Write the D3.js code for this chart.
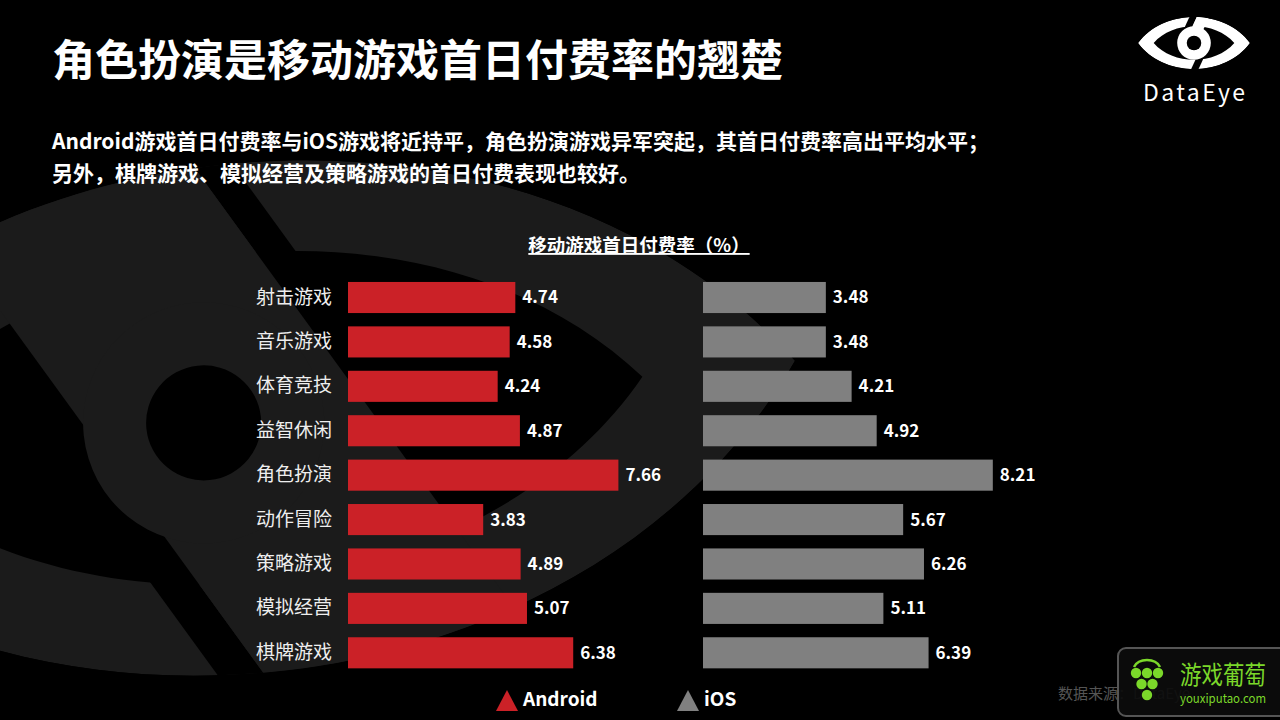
<!DOCTYPE html>
<html>
<head>
<meta charset="utf-8">
<script src="https://cdn.jsdelivr.net/npm/d3@7"></script>
<style>
html,body{margin:0;padding:0;background:#000;}
svg{display:block;}
text{font-family:"Noto Sans CJK SC","Microsoft YaHei",sans-serif;}
</style>
</head>
<body>
<svg id="chart" width="1280" height="720"></svg>
<script>
const categories = ["射击游戏","音乐游戏","体育竞技","益智休闲","角色扮演","动作冒险","策略游戏","模拟经营","棋牌游戏"];
const androidValues = [4.74,4.58,4.24,4.87,7.66,3.83,4.89,5.07,6.38];
const iosValues = [3.48,3.48,4.21,4.92,8.21,5.67,6.26,5.11,6.39];
const seriesNames = ["Android","iOS"];
const seriesColors = ["#CB2127","#808080"];
const titleText = "角色扮演是移动游戏首日付费率的翘楚";
const subtitleLines = ["Android游戏首日付费率与iOS游戏将近持平，角色扮演游戏异军突起，其首日付费率高出平均水平；","另外，棋牌游戏、模拟经营及策略游戏的首日付费表现也较好。"];
const chartTitle = "移动游戏首日付费率（%）";
const sourceText = "数据来源：DataEye";

const svg = d3.select("#chart");
svg.append("rect").attr("width",1280).attr("height",720).attr("fill","#000");

// ---- logo drawing helper (unit coords, half-width 1) ----
let clipN = 0;
function drawLogo(g, fg, bg, o) {
  const cid = "logoclip" + (clipN++);
  const outer = "M-1,0 C-0.55,-0.62 0.55,-0.62 1,0 C0.55,0.62 -0.55,0.62 -1,0 Z";
  g.append("clipPath").attr("id", cid).append("path").attr("d", outer);
  const inner = g.append("g").attr("clip-path","url(#"+cid+")");
  inner.append("path").attr("fill-rule","evenodd").attr("fill",fg)
    .attr("d", outer + " M-0.72,0 C-0.38,-0.4 0.38,-0.4 0.72,0 C0.38,0.4 -0.38,0.4 -0.72,0 Z");
  const s = o.s, n = [-o.s[1], o.s[0]];
  const c = o.c;
  function band(r){
    const p = (off,t)=>[c[0]+n[0]*off+s[0]*t, c[1]+n[1]*off+s[1]*t];
    return "M"+[p(r[0],r[2]),p(r[1],r[2]),p(r[1],r[3]),p(r[0],r[3])].map(q=>q.join(",")).join("L")+"Z";
  }
  inner.append("path").attr("fill",bg).attr("d",band(o.gapTop));
  inner.append("path").attr("fill",bg).attr("d",band(o.gapBot));
  inner.append("path").attr("fill",fg).attr("d",band(o.stem));
  inner.append("circle").attr("cx",c[0]).attr("cy",c[1]).attr("r",o.R).attr("fill",fg);
  inner.append("circle").attr("cx",c[0]).attr("cy",c[1]).attr("r",o.r).attr("fill",bg);
}

// background big eye (mirrored, tilted)
const bgLogo = svg.append("g").attr("transform","translate(250,418) rotate(-6) scale(-548,548)");
drawLogo(bgLogo, "#1b1b1b", "#000", {
  c:[0.085,0], s:[0.5,-0.866], R:0.22, r:0.105,
  stem:[-0.26,0.18,-0.9,0.9], gapTop:[-0.32,-0.26,0,0.9], gapBot:[0.18,0.25,-0.9,0]
});

// top-right logo
const logo = svg.append("g").attr("transform","translate(1194,43) scale(56)");
drawLogo(logo, "#fff", "#000", {
  c:[0,0], s:[0.42,-0.906], R:0.3, r:0.13,
  stem:[-0.15,0.05,0,0.9], gapTop:[-0.27,-0.15,0,0.9], gapBot:[0.15,0.27,-0.9,0]
});
svg.append("text").attr("x",1194).attr("y",101).attr("text-anchor","middle")
  .attr("font-family","Lato, 'Open Sans', sans-serif").attr("font-size",23)
  .attr("fill","#fff").attr("textLength",102).text("DataEye");

// title
svg.append("text").attr("x",52).attr("y",76).attr("font-size",43).attr("font-weight","bold")
  .attr("fill","#fff").text(titleText);
subtitleLines.forEach((t,i)=>{
  svg.append("text").attr("x",52).attr("y",149+i*32).attr("font-size",21).attr("font-weight","bold")
    .attr("fill","#fff").text(t);
});

// chart title underlined
svg.append("text").attr("x",639).attr("y",252).attr("text-anchor","middle")
  .attr("font-size",18.5).attr("font-weight","bold").attr("fill","#fff")
  .attr("text-decoration","underline").text(chartTitle);

// scales
const y = d3.scaleBand().domain(categories).range([275.3,675]).paddingInner(0.3).paddingOuter(0.15);
const xA = d3.scaleLinear().domain([0,10]).range([348,701]);
const xI = d3.scaleLinear().domain([0,10]).range([703,1056]);

// category labels via axis
const axis = svg.append("g").attr("transform","translate(340,0)").call(d3.axisLeft(y).tickSize(0).tickPadding(8));
axis.select(".domain").remove();
axis.selectAll("text").attr("font-size",19).attr("fill","#eeeeee")
  .attr("font-family","'Noto Sans CJK SC',sans-serif");

function drawSeries(vals, x, color){
  const g = svg.append("g");
  g.selectAll("rect").data(categories).join("rect")
    .attr("x", x(0)).attr("y", d=>y(d))
    .attr("width",(d,i)=>x(vals[i])-x(0)).attr("height",y.bandwidth())
    .attr("fill",color);
  g.selectAll("text").data(categories).join("text")
    .attr("x",(d,i)=>x(vals[i])+7).attr("y",d=>y(d)+y.bandwidth()/2)
    .attr("dy","0.35em").attr("font-size",17).attr("font-weight","bold").attr("fill","#fff")
    .text((d,i)=>vals[i].toFixed(2));
}
drawSeries(androidValues, xA, seriesColors[0]);
drawSeries(iosValues, xI, seriesColors[1]);

// legend
const legendX = [496, 677];
seriesNames.forEach((name,i)=>{
  const lx = legendX[i];
  svg.append("path").attr("d",`M${lx},711 L${lx+11},690 L${lx+22},711 Z`).attr("fill",seriesColors[i]);
  svg.append("text").attr("x",lx+27).attr("y",706).attr("font-size",19).attr("font-weight","bold")
    .attr("fill","#fff").text(name);
});

// source (partly hidden under the watermark badge, as in the reference)
svg.append("text").attr("x",1058).attr("y",699).attr("font-size",15).attr("fill","#555").text(sourceText);

// watermark badge
const wm = svg.append("g");
wm.append("rect").attr("x",1118).attr("y",648).attr("width",175).attr("height",68).attr("rx",8)
  .attr("fill","#0c0c0c").attr("fill-opacity",0.92).attr("stroke","#555").attr("stroke-width",2);
const green = "#7BD82A";
wm.append("path").attr("d","M1134,667 A14,11 0 0 1 1160,667").attr("fill","none").attr("stroke",green).attr("stroke-width",2.5);
[[1136,673],[1147,673],[1158,673],[1141.5,684],[1152.5,684],[1147,695]].forEach(p=>{
  wm.append("circle").attr("cx",p[0]).attr("cy",p[1]).attr("r",5.2).attr("fill",green);
});
wm.append("text").attr("x",1180).attr("y",684).attr("font-size",25).attr("fill",green)
  .attr("textLength",86).attr("lengthAdjust","spacingAndGlyphs").text("游戏葡萄");
wm.append("text").attr("x",1180).attr("y",703).attr("font-size",12.5).attr("fill",green)
  .attr("font-family","'DejaVu Sans',sans-serif").attr("textLength",86).attr("lengthAdjust","spacingAndGlyphs").text("youxiputao.com");
</script>
</body>
</html>
